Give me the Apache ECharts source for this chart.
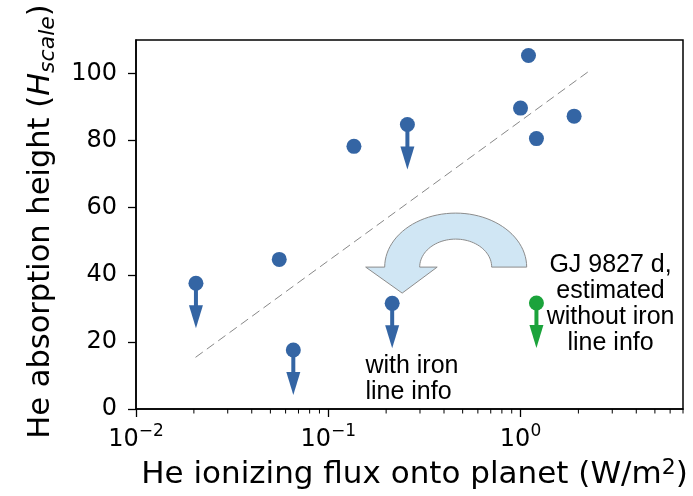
<!DOCTYPE html>
<html lang="en">
  <head>
    <meta charset="UTF-8" />
    <title>He absorption height vs ionizing flux</title>
    <script src="https://cdn.jsdelivr.net/npm/echarts@6/dist/echarts.min.js"></script>
    <style>
      html, body { margin: 0; padding: 0; background: #fff; }
    </style>
  </head>
  <body>
    <div id="main" style="width: 693px; height: 496px"></div>
    <script type="text/javascript">
      // measured planets
      var detFlux = [0.0556, 0.136, 1.0, 1.1, 1.21, 1.9];
      var detHeight = [44.6, 78.3, 89.7, 105.4, 80.6, 87.3];
      // upper limits (drawn with arrows)
      var limFlux = [0.0205, 0.0658, 0.215, 0.258];
      var limHeight = [37.5, 17.6, 31.5, 84.8];
      // GJ 9827 d, estimated without iron line info
      var gjFlux = [1.21];
      var gjHeight = [31.6];
      // dashed trend line
      var trendFlux = [0.0204, 2.27];
      var trendHeight = [15.4, 100.7];

      var xMajor = [0.01, 0.1, 1];
      var xMinor = [0.02, 0.03, 0.04, 0.05, 0.06, 0.07, 0.08, 0.09,
                    0.2, 0.3, 0.4, 0.5, 0.6, 0.7, 0.8, 0.9,
                    2, 3, 4, 5, 6, 7];
      var yTicks = [0, 20, 40, 60, 80, 100];

      var blue = "#3465a4";
      var green = "#1ba33b";
      var axisFont = "DejaVu Sans";
      var noteFont = "Liberation Sans";

      function zip(xs, ys) {
        return xs.map(function (x, i) { return [x, ys[i]]; });
      }

      // circle + downward arrow for an upper limit
      function limitArrow(color) {
        return function (params, api) {
          var p = api.coord([api.value(0), api.value(1)]);
          var x = p[0], y = p[1];
          return {
            type: "group",
            children: [
              { type: "rect", shape: { x: x - 2, y: y, width: 4, height: 23 }, style: { fill: color } },
              { type: "polygon", shape: { points: [[x - 7, y + 22], [x + 7, y + 22], [x, y + 45]] }, style: { fill: color } },
              { type: "circle", shape: { cx: x, cy: y, r: 7.5 }, style: { fill: color } },
            ],
          };
        };
      }

      var myChart = echarts.init(document.getElementById("main"));

      var option = {
        animation: false,
        backgroundColor: "#fff",
        grid: {
          left: 136,
          right: 10,
          top: 40,
          bottom: 87,
          show: true,
          borderColor: "#000",
          borderWidth: 1.5,
          containLabel: false,
        },
        xAxis: {
          type: "log",
          logBase: 10,
          min: 0.01,
          max: 7,
          name: "He ionizing flux onto planet (W/m{sup|2})",
          nameLocation: "middle",
          nameGap: 47,
          nameTextStyle: {
            fontFamily: axisFont,
            fontSize: 31,
            color: "#000",
            padding: [0, 0, 0, 10],
            rich: {
              sup: { fontFamily: axisFont, fontSize: 22, color: "#000", padding: [0, 0, 15, 0] },
            },
          },
          axisLine: { lineStyle: { color: "#000", width: 1.5 } },
          axisTick: { customValues: xMajor, length: 8, lineStyle: { color: "#000", width: 1.3 } },
          minorTick: { show: false },
          splitLine: { show: false },
          axisLabel: {
            customValues: xMajor,
            margin: 14,
            formatter: function (v) {
              var e = Math.round(Math.log10(v));
              return "{b|10}{s|" + (e < 0 ? "\u2212" + -e : e) + "}";
            },
            rich: {
              b: { fontFamily: axisFont, fontSize: 24, color: "#000", verticalAlign: "bottom" },
              s: { fontFamily: axisFont, fontSize: 17, color: "#000", padding: [0, 0, 12, 0], verticalAlign: "bottom" },
            },
          },
        },
        yAxis: {
          type: "value",
          min: 0,
          max: 110,
          interval: 20,
          name: "He absorption height ({i|H}{sub|scale})",
          nameLocation: "middle",
          nameRotate: 90,
          nameGap: 77,
          nameTextStyle: {
            fontFamily: axisFont,
            fontSize: 30.5,
            color: "#000",
            padding: [0, 0, 0, 6],
            rich: {
              i: { fontFamily: axisFont, fontSize: 30.5, fontStyle: "italic", color: "#000" },
              sub: { fontFamily: axisFont, fontSize: 22, fontStyle: "italic", color: "#000", padding: [13, 0, 0, 0] },
            },
          },
          axisLine: { show: true, lineStyle: { color: "#000", width: 1.5 } },
          axisTick: { show: true, customValues: yTicks, length: 8, lineStyle: { color: "#000", width: 1.3 } },
          splitLine: { show: false },
          axisLabel: {
            customValues: yTicks,
            margin: 19,
            fontFamily: axisFont,
            fontSize: 24,
            color: "#000",
          },
        },
        series: [
          {
            type: "custom",
            name: "minor ticks",
            silent: true,
            clip: false,
            data: xMinor.map(function (v) { return [v, 0]; }),
            renderItem: function (params, api) {
              var p = api.coord([api.value(0), api.value(1)]);
              return {
                type: "line",
                shape: { x1: p[0], y1: p[1], x2: p[0], y2: p[1] + 4.5 },
                style: { stroke: "#000", lineWidth: 1 },
              };
            },
          },
          {
            type: "line",
            name: "trend",
            data: zip(trendFlux, trendHeight),
            symbol: "none",
            lineStyle: { color: "#888", width: 1, type: [9, 5] },
          },
          {
            type: "scatter",
            name: "detections",
            data: zip(detFlux, detHeight),
            symbolSize: 15,
            itemStyle: { color: blue, opacity: 1 },
          },
          {
            type: "custom",
            name: "upper limits",
            data: zip(limFlux, limHeight),
            renderItem: limitArrow(blue),
          },
          {
            type: "custom",
            name: "GJ 9827 d",
            data: zip(gjFlux, gjHeight),
            renderItem: limitArrow(green),
          },
        ],
      };
      myChart.setOption(option);

      // annotations anchored in data space
      var bend = myChart.convertToPixel({ gridIndex: 0 }, [0.46, 42.3]);
      var pts = [];
      var i, a;
      for (i = 0; i <= 48; i++) {
        a = (Math.PI * i) / 48;
        pts.push([bend[0] + 71 * Math.cos(a), bend[1] - 54 * Math.sin(a)]);
      }
      pts.push([bend[0] - 90, bend[1]]);
      pts.push([bend[0] - 53.5, bend[1] + 26]);
      pts.push([bend[0] - 18.5, bend[1]]);
      for (i = 48; i >= 0; i--) {
        a = (Math.PI * i) / 48;
        pts.push([bend[0] + 36 * Math.cos(a), bend[1] - 28 * Math.sin(a)]);
      }

      var ironPos = myChart.convertToPixel({ gridIndex: 0 }, [0.156, 8.9]);
      var gjPos = myChart.convertToPixel({ gridIndex: 0 }, [2.94, 31.2]);

      myChart.setOption({
        graphic: [
          {
            type: "polygon",
            shape: { points: pts },
            style: { fill: "#d0e6f4", stroke: "#8c8c8c", lineWidth: 1 },
            z: 1,
          },
          {
            type: "text",
            x: ironPos[0],
            y: ironPos[1],
            style: {
              text: "with iron\nline info",
              fontFamily: noteFont,
              fontSize: 25,
              lineHeight: 26,
              fill: "#000",
              align: "left",
              verticalAlign: "middle",
            },
          },
          {
            type: "text",
            x: gjPos[0],
            y: gjPos[1],
            style: {
              text: "GJ 9827 d,\nestimated\nwithout iron\nline info",
              fontFamily: noteFont,
              fontSize: 25,
              lineHeight: 26,
              fill: "#000",
              align: "center",
              verticalAlign: "middle",
            },
          },
        ],
      });
    </script>
  </body>
</html>
